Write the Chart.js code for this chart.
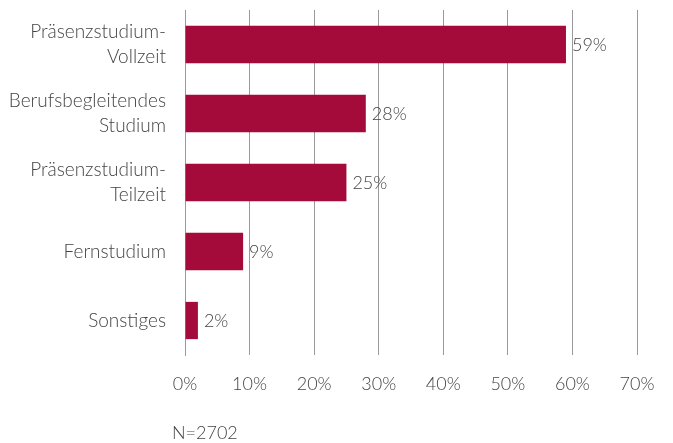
<!DOCTYPE html>
<html>
<head>
<meta charset="utf-8">
<script src="https://cdn.jsdelivr.net/npm/chart.js@4/dist/chart.umd.min.js"></script>
<style>
  body { margin: 0; background: #fff; }
  #wrap { position: relative; width: 673px; height: 443px; }
  #note { position: absolute; left: 172px; top: 421px; font: 300 18px Lato, sans-serif; color: #444; }
</style>
</head>
<body>
<div id="wrap">
  <canvas id="myChart" width="673" height="443"></canvas>
  <div id="note">N=2702</div>
</div>
<script>
const categories = [
    ['Präsenzstudium-', 'Vollzeit'],
    ['Berufsbegleitendes', 'Studium'],
    ['Präsenzstudium-', 'Teilzeit'],
    'Fernstudium',
    'Sonstiges'
];
const values = [59, 28, 25, 9, 2];
const xTicks = [0, 10, 20, 30, 40, 50, 60, 70];

const textColor = '#444';
const barColor = '#a50b3a';
const fontFamily = 'Lato';

// Prozentwerte rechts neben den Balken
const valueLabels = {
    id: 'valueLabels',
    afterDatasetsDraw(chart) {
        const ctx = chart.ctx;
        const meta = chart.getDatasetMeta(0);
        ctx.save();
        ctx.font = '300 18px ' + fontFamily + ', sans-serif';
        ctx.fillStyle = textColor;
        ctx.textBaseline = 'middle';
        meta.data.forEach(function (bar, i) {
            ctx.fillText(values[i] + '%', bar.x + 6, bar.y + 1);
        });
        ctx.restore();
    }
};

new Chart('myChart', {
    type: 'bar',
    data: {
        labels: categories,
        datasets: [{
            data: values,
            backgroundColor: barColor,
            barPercentage: 0.54,
            categoryPercentage: 1
        }]
    },
    options: {
        indexAxis: 'y',
        responsive: false,
        animation: false,
        layout: { padding: { top: 10, right: 36, bottom: 38, left: 0 } },
        plugins: {
            legend: { display: false },
            tooltip: { enabled: false }
        },
        scales: {
            x: {
                min: 0,
                max: 70,
                afterBuildTicks(axis) {
                    axis.ticks = xTicks.map(v => ({ value: v }));
                },
                afterFit(axis) { axis.height = 50; },
                grid: { color: '#9a9a9a', lineWidth: 1, drawTicks: false },
                border: { display: false },
                ticks: {
                    padding: 18,
                    color: textColor,
                    font: { family: fontFamily, size: 18, weight: 300 },
                    callback: v => v + '%'
                }
            },
            y: {
                afterFit(axis) {
                    axis.width = 185;
                    axis.paddingTop = 0;
                    axis.paddingBottom = 0;
                },
                grid: { display: false },
                border: { color: '#9a9a9a' },
                ticks: {
                    padding: 11,
                    color: textColor,
                    font: { family: fontFamily, size: 19, weight: 300, lineHeight: 1.32 }
                }
            }
        }
    },
    plugins: [valueLabels]
});
</script>
</body>
</html>
